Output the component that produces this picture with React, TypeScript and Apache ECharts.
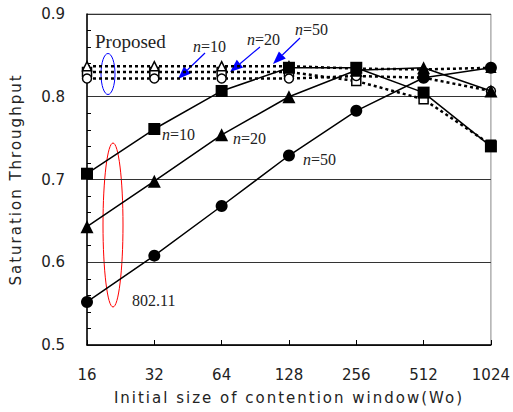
import React, { useEffect, useRef } from "react";
import * as echarts from "echarts";

const categories = ["16", "32", "64", "128", "256", "512", "1024"];
const legacyN10 = [0.707, 0.761, 0.807, 0.835, 0.835, 0.805, 0.740];
const legacyN20 = [0.643, 0.698, 0.754, 0.800, 0.832, 0.835, 0.807];
const legacyN50 = [0.552, 0.608, 0.668, 0.729, 0.783, 0.823, 0.835];
const proposedN10 = [0.830, 0.830, 0.830, 0.830, 0.819, 0.797, 0.742];
const proposedN20 = [0.837, 0.837, 0.837, 0.837, 0.834, 0.833, 0.835];
const proposedN50 = [0.822, 0.822, 0.822, 0.822, 0.825, 0.823, 0.807];

function arrow(x1: number, y1: number, x2: number, y2: number) {
  const dx = x2 - x1;
  const dy = y2 - y1;
  const len = Math.sqrt(dx * dx + dy * dy);
  const ux = dx / len;
  const uy = dy / len;
  const hl = 13;
  const hw = 5;
  const bx = x2 - ux * hl;
  const by = y2 - uy * hl;
  return [
    {
      type: "line",
      shape: { x1, y1, x2: bx, y2: by },
      style: { stroke: "#0000ff", lineWidth: 1.2 },
    },
    {
      type: "polygon",
      shape: {
        points: [
          [x2, y2],
          [bx - uy * hw, by + ux * hw],
          [bx + uy * hw, by - ux * hw],
        ],
      },
      style: { fill: "#0000ff" },
    },
  ];
}

const serif = "'Liberation Serif', 'DejaVu Serif', serif";
const NAME_COLOR = "#232323";

function nLabel(text: string, x: number, y: number) {
  return {
    type: "text",
    x,
    y,
    style: {
      text: "{i|n}{r|" + text + "}",
      verticalAlign: "middle",
      rich: {
        i: { fontFamily: serif, fontStyle: "italic", fontSize: 16, fill: "#222" },
        r: { fontFamily: serif, fontSize: 16, fill: "#222" },
      },
    },
  };
}

export default function App() {
  const ref = useRef<HTMLDivElement>(null);
  useEffect(() => {
    if (!ref.current) return;
    const chart = echarts.init(ref.current, null, { renderer: "svg" });
    const solid = (name: string, data: number[], symbol: string, size: number) => ({
      name,
      type: "line",
      data,
      symbol,
      symbolSize: size,
      z: 5,
      lineStyle: { color: "#000", width: 1.5 },
      itemStyle: { color: "#000" },
    });
    const dotted = (name: string, data: number[], symbol: string, size: number) => ({
      name,
      type: "line",
      data,
      symbol,
      symbolSize: size,
      z: 3,
      lineStyle: { color: "#000", width: 2.5, type: [3, 3] },
      itemStyle: { color: "#fff", borderColor: "#000", borderWidth: 1.5 },
    });
    chart.setOption({
      animation: false,
      grid: {
        left: 82,
        right: 20,
        top: 14,
        bottom: 67,
        show: true,
        borderColor: "#888",
        borderWidth: 1,
      },
      xAxis: {
        type: "category",
        data: categories,
        boundaryGap: false,
        name: "Initial size of contention window(Wo)",
        nameLocation: "middle",
        nameGap: 45,
        nameTextStyle: { fontFamily: "'DejaVu Sans', sans-serif", fontSize: 15, color: NAME_COLOR },
        axisLine: { lineStyle: { color: "#000", width: 1.5 } },
        axisTick: { inside: true, length: 5, lineStyle: { color: "#000" } },
        axisLabel: { fontFamily: "'DejaVu Sans', sans-serif", fontSize: 15, color: "#222", margin: 22 },
        splitLine: { show: false },
      },
      yAxis: {
        type: "value",
        min: 0.5,
        max: 0.9,
        interval: 0.1,
        name: "Saturation Throughput",
        nameLocation: "middle",
        nameGap: 64,
        nameTextStyle: { fontFamily: "'DejaVu Sans', sans-serif", fontSize: 15, color: NAME_COLOR },
        axisLine: { show: true, lineStyle: { color: "#000", width: 1.5 } },
        axisTick: { inside: true, length: 5, lineStyle: { color: "#000" } },
        minorTick: { show: true, splitNumber: 5, length: 4, lineStyle: { color: "#000" } },
        axisLabel: {
          fontFamily: "'DejaVu Sans', sans-serif",
          fontSize: 15,
          color: "#222",
          margin: 22,
          formatter: (v: number) => v.toFixed(1),
        },
        splitLine: { show: true, lineStyle: { color: "#333", width: 1 } },
      },
      series: [
        dotted("Proposed n=10", proposedN10, "rect", 9),
        dotted("Proposed n=20", proposedN20, "triangle", 9),
        dotted("Proposed n=50", proposedN50, "circle", 9),
        solid("802.11 n=10", legacyN10, "rect", 12),
        solid("802.11 n=20", legacyN20, "triangle", 13),
        solid("802.11 n=50", legacyN50, "circle", 12),
      ],
      graphic: [
        {
          type: "text",
          x: 95,
          y: 41,
          style: { text: "Proposed", fontFamily: serif, fontSize: 19, fill: "#222", verticalAlign: "middle" },
        },
        {
          type: "ellipse",
          shape: { cx: 108, cy: 74, rx: 7, ry: 20.5 },
          style: { fill: "none", stroke: "#0000ff", lineWidth: 1 },
        },
        {
          type: "ellipse",
          shape: { cx: 113, cy: 225, rx: 10, ry: 82 },
          style: { fill: "none", stroke: "#ff0000", lineWidth: 1 },
        },
        {
          type: "text",
          x: 132,
          y: 300,
          style: { text: "802.11", fontFamily: serif, fontSize: 16, fill: "#222", verticalAlign: "middle" },
        },
        nLabel("=10", 193, 46),
        nLabel("=20", 247, 39),
        nLabel("=50", 295, 29),
        nLabel("=10", 162, 134),
        nLabel("=20", 233, 138),
        nLabel("=50", 303, 159),
        ...arrow(205, 53, 178, 79),
        ...arrow(260, 47, 230, 72),
        ...arrow(300, 38, 273, 64),
      ],
    });
    return () => chart.dispose();
  }, []);
  return (
    <>
      <style>{`text[fill="${NAME_COLOR}"], text[fill="rgb(35,35,35)"] { letter-spacing: 2px; }`}</style>
      <div
        ref={ref}
        style={{ position: "absolute", left: 0, top: 0, width: 513, height: 412, background: "#fff" }}
      />
    </>
  );
}
